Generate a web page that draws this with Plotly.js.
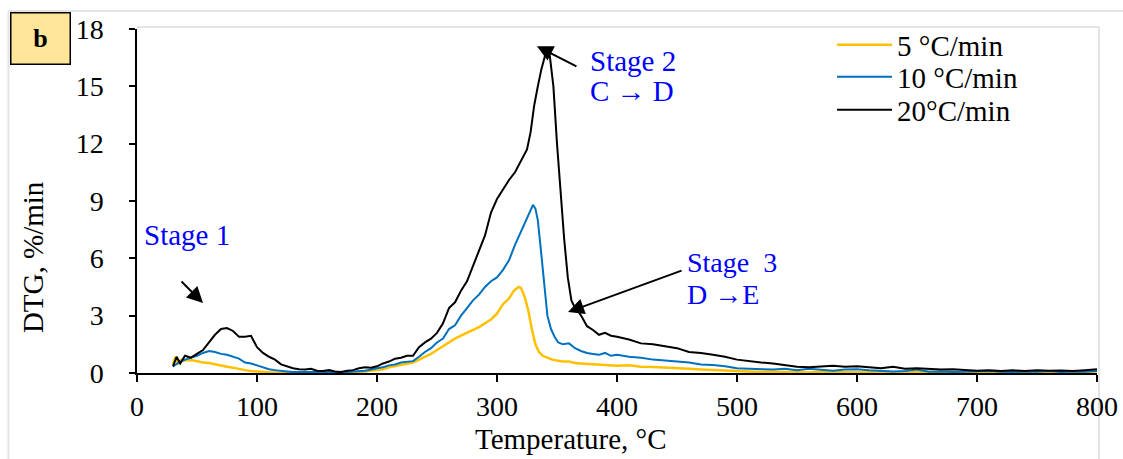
<!DOCTYPE html>
<html>
<head>
<meta charset="utf-8">
<script src="https://cdn.plot.ly/plotly-3.0.1.min.js"></script>
<style>
html,body{margin:0;padding:0;background:#fff;}
#chart{width:1123px;height:459px;}
</style>
</head>
<body>
<div id="chart"></div>
<script>
// ---- data ----
var seriesNames = ["5 °C/min", "10 °C/min", "20°C/min"];

var temp5 = [30,32,34,37,40,45,50,55,60,65,70,75,80,85,90,95,100,110,120,130,140,150,160,170,180,190,200,205,210,215,220,225,230,235,240,245,250,255,260,265,270,275,280,285,290,295,300,305,310,314,318,320,323,326,329,332,335,338,342,346,350,355,360,365,370,380,390,400,410,420,430,440,450,460,470,480,490,500,510,520,530,540,550,560,570,580,590,600,620,640,660,680,700,720,740,760,780,800];
var dtg5 = [0.45,0.85,0.5,0.7,0.65,0.68,0.62,0.55,0.52,0.45,0.4,0.33,0.28,0.2,0.15,0.1,0.07,0.04,0.02,0.0,0.01,0.0,0.02,0.0,0.03,0.08,0.15,0.2,0.3,0.35,0.42,0.48,0.55,0.7,0.85,1.0,1.2,1.4,1.6,1.8,1.95,2.1,2.25,2.4,2.6,2.8,3.1,3.6,3.9,4.3,4.5,4.45,4.0,3.3,2.3,1.5,1.1,0.9,0.8,0.7,0.65,0.6,0.6,0.52,0.5,0.45,0.42,0.38,0.4,0.33,0.32,0.3,0.25,0.22,0.18,0.15,0.12,0.08,0.07,0.05,0.06,0.04,0.05,0.03,0.06,0.04,0.05,0.03,0.05,0.03,0.06,0.04,0.05,0.03,0.06,0.04,0.05,0.08];

var temp10 = [30,35,40,45,50,55,60,65,70,75,80,85,90,95,100,105,110,115,120,125,130,140,150,160,170,180,190,200,205,210,215,220,225,230,235,240,245,250,255,260,265,270,275,280,285,290,295,300,305,310,315,320,325,328,330,332,334,336,338,340,342,345,348,351,355,360,365,370,375,380,385,390,395,400,410,420,430,440,450,460,470,480,490,500,510,520,530,540,550,560,570,580,590,600,610,620,630,640,650,660,670,680,690,700,710,720,730,740,750,760,770,780,790,800];
var dtg10 = [0.35,0.55,0.7,0.8,0.9,1.05,1.15,1.1,1.0,0.95,0.85,0.75,0.55,0.5,0.4,0.3,0.2,0.15,0.1,0.08,0.05,0.06,0.04,0.05,0.03,0.06,0.12,0.25,0.3,0.4,0.45,0.55,0.6,0.62,0.85,1.1,1.3,1.6,1.8,2.3,2.5,3.0,3.4,3.8,4.1,4.5,4.8,5.0,5.4,5.9,6.7,7.4,8.1,8.6,8.8,8.6,8.0,6.8,5.5,4.2,3.0,2.3,1.9,1.6,1.5,1.55,1.3,1.15,1.05,1.0,0.95,1.05,0.9,0.95,0.85,0.8,0.7,0.65,0.6,0.55,0.45,0.42,0.35,0.25,0.22,0.2,0.18,0.22,0.15,0.22,0.18,0.12,0.18,0.2,0.15,0.12,0.08,0.1,0.18,0.06,0.08,0.05,0.07,0.06,0.1,0.07,0.05,0.08,0.06,0.1,0.05,0.08,0.06,0.1];

var temp20 = [30,33,36,40,45,50,55,60,65,70,75,80,85,90,95,100,105,110,115,120,125,130,135,140,145,150,155,160,165,170,175,180,185,190,195,200,205,210,215,220,225,230,235,240,245,250,255,260,265,270,275,280,285,290,295,300,305,310,315,320,325,328,331,334,337,340,342,344,347,350,353,356,359,362,365,368,371,375,380,385,390,395,400,410,420,430,440,450,460,470,480,490,500,510,520,530,540,550,560,570,580,590,600,610,620,630,640,650,660,670,680,690,700,710,720,730,740,750,760,770,780,790,800];
var dtg20 = [0.35,0.85,0.5,0.9,0.8,1.0,1.2,1.6,2.0,2.3,2.35,2.2,1.9,1.9,1.95,1.35,1.05,0.85,0.7,0.45,0.35,0.25,0.2,0.18,0.22,0.12,0.1,0.15,0.08,0.05,0.12,0.15,0.25,0.3,0.28,0.35,0.5,0.6,0.75,0.8,0.9,0.9,1.35,1.6,1.8,2.1,2.6,3.4,3.7,4.3,4.8,5.6,6.3,7.2,8.4,9.1,9.6,10.1,10.5,11.1,11.7,12.6,14.0,15.0,15.9,16.6,17.0,16.6,15.0,12.0,9.4,7.0,5.0,3.8,3.4,3.2,2.9,2.45,2.25,2.0,2.1,1.95,1.9,1.75,1.55,1.5,1.4,1.3,1.1,1.05,0.95,0.85,0.7,0.62,0.55,0.5,0.4,0.33,0.3,0.35,0.38,0.33,0.35,0.3,0.25,0.32,0.22,0.25,0.2,0.18,0.2,0.15,0.12,0.15,0.1,0.14,0.1,0.15,0.12,0.13,0.1,0.15,0.2];

var xTicks = [0,100,200,300,400,500,600,700,800];
var yTicks = [0,3,6,9,12,15,18];

// ---- figure ----
var FONT = "Liberation Serif, Times New Roman, serif";
var traces = [
  {x: temp5, y: dtg5, name: seriesNames[0], legend: "legend", mode: "lines", line: {color: "#FFC000", width: 2.5}},
  {x: temp10, y: dtg10, name: seriesNames[1], legend: "legend2", mode: "lines", line: {color: "#0070C0", width: 2}},
  {x: temp20, y: dtg20, name: seriesNames[2], legend: "legend3", mode: "lines", line: {color: "#000000", width: 2}}
];

function leg(yc) {
  return {x: 0.724, y: yc, xanchor: "left", yanchor: "middle", bgcolor: "rgba(0,0,0,0)",
          font: {family: FONT, size: 29, color: "#000"}, itemwidth: 55};
}

var gray = "#e4e4e4";
var layout = {
  width: 1123, height: 459,
  margin: {l: 137, r: 26, t: 29, b: 86},
  paper_bgcolor: "#ffffff", plot_bgcolor: "#ffffff",
  font: {family: FONT, size: 28, color: "#000"},
  showlegend: true,
  legend: leg(0.9535),
  legend2: leg(0.8605),
  legend3: leg(0.7645),
  xaxis: {range: [0, 800], tickvals: xTicks, ticktext: xTicks.map(String), showgrid: false, zeroline: false,
          showline: true, linecolor: "#000", linewidth: 2, ticks: "outside", ticklen: 7, tickwidth: 2, tickcolor: "#000",
          tickfont: {family: FONT, size: 28, color: "#000"}},
  yaxis: {range: [0, 18], tickvals: yTicks, ticktext: yTicks.map(function (v) { return v + "\u2002\u2009"; }),
          showgrid: false, zeroline: false,
          showline: true, linecolor: "#000", linewidth: 2, ticks: "outside", ticklen: 6, tickwidth: 2, tickcolor: "#000",
          tickfont: {family: FONT, size: 28, color: "#000"}},
  shapes: [
    {type: "line", xref: "paper", yref: "paper", x0: -0.1339, x1: -0.1339, y0: 1.0523, y1: -0.4, line: {color: gray, width: 2}, layer: "below"},
    {type: "line", xref: "paper", yref: "paper", x0: -0.1339, x1: 1.05, y0: 1.0523, y1: 1.0523, line: {color: gray, width: 2}, layer: "below"},
    {type: "line", xref: "paper", yref: "paper", x0: 0, x1: 1.0021, y0: 1.0058, y1: 1.0058, line: {color: gray, width: 2}, layer: "below"},
    {type: "line", xref: "paper", yref: "paper", x0: 1.0021, x1: 1.0021, y0: 1.0058, y1: -0.4, line: {color: gray, width: 2}, layer: "below"}
  ],
  annotations: [
    {xref: "paper", yref: "paper", x: -0.101, y: 0.971, xanchor: "center", yanchor: "middle", text: "<b>b</b>", showarrow: false,
     bgcolor: "#FFE699", bordercolor: "#000", borderwidth: 1.5, borderpad: 0, width: 58, height: 50,
     font: {family: FONT, size: 26, color: "#000"}},
    {xref: "paper", yref: "paper", x: -0.1083, y: 0.337, xanchor: "center", yanchor: "middle", text: "DTG, %/min", textangle: -90, showarrow: false,
     font: {family: FONT, size: 29, color: "#000"}},
    {xref: "paper", yref: "paper", x: 0.452, y: -0.192, xanchor: "center", yanchor: "middle", text: "Temperature, °C", showarrow: false,
     font: {family: FONT, size: 29, color: "#000"}},
    {x: 4, y: 7.22, xanchor: "left", text: "Stage 1", showarrow: false, font: {family: FONT, size: 29, color: "#0000FF"}},
    {x: 55, y: 3.66, ax: -23, ay: -23, text: "", showarrow: true, arrowhead: 2, arrowsize: 1.6, arrowwidth: 2, arrowcolor: "#000"},
    {x: 376, y: 16.3, xanchor: "left", text: "Stage 2", showarrow: false, font: {family: FONT, size: 29, color: "#0000FF"}},
    {x: 376, y: 14.75, xanchor: "left", text: "C → D", showarrow: false, font: {family: FONT, size: 29, color: "#0000FF"}},
    {x: 333.3, y: 17.1, ax: 41, ay: 21, text: "", showarrow: true, arrowhead: 2, arrowsize: 1.6, arrowwidth: 2, arrowcolor: "#000"},
    {x: 457, y: 5.8, xanchor: "left", text: "Stage  3", showarrow: false, font: {family: FONT, size: 28, color: "#0000FF"}},
    {x: 457, y: 4.1, xanchor: "left", text: "D →E", showarrow: false, font: {family: FONT, size: 28, color: "#0000FF"}},
    {x: 359.2, y: 3.19, ax: 115, ay: -42, text: "", showarrow: true, arrowhead: 2, arrowsize: 1.6, arrowwidth: 2, arrowcolor: "#000"}
  ]
};

Plotly.newPlot("chart", traces, layout, {displayModeBar: false, staticPlot: true});
</script>
</body>
</html>
